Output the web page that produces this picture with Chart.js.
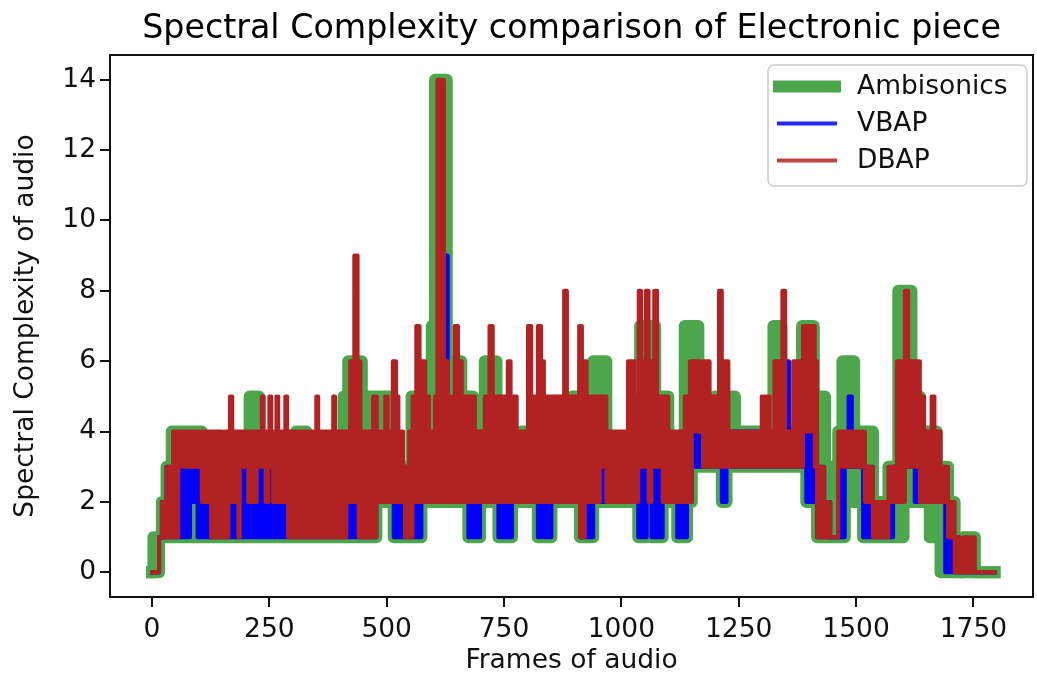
<!DOCTYPE html>
<html>
<head>
<meta charset="utf-8">
<script src="https://cdn.jsdelivr.net/npm/chart.js@4.4.1/dist/chart.umd.min.js"></script>
<style>
  html, body { margin: 0; padding: 0; background: #fff; }
  #wrap { width: 1037px; height: 675px; }
</style>
</head>
<body>
<div id="wrap"><canvas id="spectralChart" width="1037" height="675"></canvas></div>
<script>
const seriesNames = ['Ambisonics', 'VBAP', 'DBAP'];
const xTicks = [0, 250, 500, 750, 1000, 1250, 1500, 1750];
const yTicks = [0, 2, 4, 6, 8, 10, 12, 14];
const lastFrame = 1795;

// each step: [frame where it starts, lowest value, highest value]
const ambisonicsSteps = [
  [0,0,0],[3,0,1],[15,1,1],[21,1,2],[31,1,3],[42,1,4],[106,1,3],[208,1,5],[228,1,3],[307,1,4],
  [329,1,3],[408,1,5],[418,1,6],[447,1,3],[460,1,5],[478,2,5],[488,2,3],[492,2,5],[510,2,3],[515,1,3],
  [553,1,5],[567,1,3],[574,2,3],[596,2,7],[603,2,14],[628,2,6],[659,2,5],[674,1,5],[684,1,3],[699,2,3],
  [709,2,6],[734,2,3],[738,1,3],[767,2,3],[787,2,4],[801,2,3],[822,1,3],[851,2,3],[895,2,5],[909,2,3],
  [912,1,3],[922,1,5],[929,1,3],[940,2,6],[968,2,3],[1036,1,3],[1040,1,7],[1054,2,7],[1064,1,7],[1072,1,3],
  [1078,1,5],[1088,2,5],[1100,2,3],[1119,1,3],[1135,1,7],[1140,2,7],[1150,3,7],[1164,3,4],[1199,3,5],[1214,2,4],
  [1224,3,4],[1228,3,5],[1242,3,4],[1324,3,7],[1341,3,4],[1385,3,7],[1394,2,7],[1410,2,4],[1417,1,3],[1423,1,5],
  [1434,1,3],[1462,1,4],[1471,1,6],[1476,2,6],[1496,2,4],[1515,1,4],[1536,1,2],[1569,1,3],[1590,1,8],[1601,2,8],
  [1618,2,5],[1636,2,4],[1657,1,4],[1672,1,3],[1680,0,3],[1696,0,2],[1710,0,1],[1720,0,0],[1728,0,1],[1753,0,0]
];
const vbapSteps = [
  [0,0,0],[15,1,1],[21,1,2],[31,1,3],[81,2,3],[97,1,3],[106,1,2],[126,1,3],[163,1,2],[184,1,3],
  [205,1,2],[223,1,3],[242,1,2],[251,1,3],[258,1,2],[290,1,3],[414,1,2],[425,1,3],[478,2,3],[515,1,3],
  [574,2,3],[624,2,9],[630,2,3],[674,1,3],[699,2,3],[738,1,3],[767,2,3],[822,1,3],[851,2,3],[912,1,3],
  [940,2,3],[1036,1,3],[1054,2,3],[1064,1,3],[1088,2,3],[1119,1,2],[1140,2,3],[1150,3,4],[1214,2,4],[1224,3,4],
  [1352,3,6],[1357,3,4],[1394,2,4],[1417,1,3],[1432,1,2],[1445,1,1],[1466,1,3],[1476,3,3],[1484,3,5],[1491,3,3],
  [1515,1,3],[1536,1,2],[1579,2,3],[1601,3,4],[1625,2,4],[1639,2,3],[1690,0,2],[1697,0,1],[1720,0,0]
];
const dbapSteps = [
  [0,0,0],[15,1,1],[21,1,2],[31,1,3],[45,1,4],[56,3,4],[106,2,4],[126,1,4],[150,1,3],[155,1,4],
  [163,2,4],[166,2,5],[171,2,4],[184,1,4],[187,3,4],[205,2,4],[223,3,4],[234,3,5],[238,3,4],[242,2,4],
  [248,3,4],[250,3,5],[254,3,4],[258,2,4],[265,2,5],[269,2,4],[284,2,5],[288,2,4],[290,1,4],[350,1,5],
  [354,1,4],[386,1,5],[390,1,4],[414,2,4],[422,2,6],[431,2,9],[438,2,6],[440,1,6],[444,1,4],[471,1,5],
  [478,2,5],[479,2,4],[497,2,5],[502,2,4],[513,2,6],[520,2,5],[525,2,4],[535,2,3],[539,1,3],[548,1,4],
  [555,2,5],[563,2,7],[570,2,5],[575,2,6],[582,2,5],[590,2,4],[603,2,5],[608,2,14],[622,2,6],[630,2,5],
  [645,2,7],[652,2,6],[660,2,5],[688,2,4],[709,2,5],[719,2,7],[726,2,5],[758,2,6],[764,2,5],[777,2,4],
  [801,2,7],[808,2,5],[822,2,7],[829,2,6],[835,2,5],[878,2,8],[884,2,5],[910,2,7],[912,1,7],[916,1,5],
  [922,2,6],[926,2,5],[954,3,5],[968,2,4],[1014,2,6],[1028,2,5],[1036,3,5],[1037,3,8],[1042,3,6],[1052,3,8],
  [1058,2,6],[1064,3,6],[1070,3,8],[1076,3,5],[1088,2,5],[1100,2,4],[1135,2,5],[1146,2,6],[1150,4,6],[1167,4,5],
  [1174,3,6],[1188,3,5],[1208,3,8],[1214,3,6],[1228,3,4],[1299,3,5],[1316,3,4],[1326,3,6],[1343,3,8],[1349,3,4],
  [1366,3,6],[1387,4,7],[1412,3,6],[1417,1,3],[1432,1,2],[1445,1,1],[1462,3,4],[1519,2,3],[1536,1,2],[1569,2,3],
  [1587,2,6],[1604,3,8],[1611,3,6],[1636,2,5],[1645,2,4],[1661,2,5],[1667,2,4],[1680,2,3],[1696,1,2],[1710,0,1],
  [1720,0,0],[1728,0,1],[1753,0,0]
];

const colors = ['#4ca64c', '#0000ff', '#b22222'];
const widths = [12, 4, 4];
const allSteps = [ambisonicsSteps, vbapSteps, dbapSteps];
const FONT = '"DejaVu Sans", sans-serif';

function edge(steps, k) {
  const pts = steps.map(s => ({ x: s[0], y: s[k] }));
  const last = steps[steps.length - 1];
  pts.push({ x: lastFrame, y: last[k] });
  return pts;
}

// two stepped lines per series (upper and lower edge), area between them filled
const datasets = [];
allSteps.forEach((steps, i) => {
  const hiIndex = datasets.length;
  const common = {
    borderColor: colors[i],
    backgroundColor: colors[i],
    borderWidth: widths[i],
    stepped: true,
    pointRadius: 0,
    borderJoinStyle: 'round',
    borderCapStyle: 'square',
    order: 3 - i
  };
  datasets.push(Object.assign({ label: seriesNames[i], data: edge(steps, 2), fill: hiIndex + 1 }, common));
  datasets.push(Object.assign({ label: seriesNames[i] + ' low', data: edge(steps, 1), fill: false }, common));
});

const framePlugin = {
  id: 'frame',
  afterDraw(chart) {
    const { ctx, chartArea: a } = chart;
    ctx.save();
    // title
    ctx.fillStyle = '#000';
    ctx.font = '33.3px ' + FONT;
    ctx.textAlign = 'center';
    ctx.textBaseline = 'alphabetic';
    ctx.fillText('Spectral Complexity comparison of Electronic piece', (a.left + a.right) / 2, 38);
    // spines
    ctx.strokeStyle = '#111';
    ctx.lineWidth = 2;
    ctx.strokeRect(a.left, a.top, a.right - a.left, a.bottom - a.top);
    // legend
    const bx = 768, by = 65, bw = 259, bh = 121, r = 6;
    ctx.beginPath();
    ctx.roundRect(bx, by, bw, bh, r);
    ctx.fillStyle = 'rgba(255,255,255,0.8)';
    ctx.fill();
    ctx.strokeStyle = '#cccccc';
    ctx.lineWidth = 1.5;
    ctx.stroke();
    ctx.font = '26.5px ' + FONT;
    ctx.textAlign = 'left';
    ctx.textBaseline = 'middle';
    seriesNames.forEach((name, i) => {
      const y = 86.5 + i * 37;
      ctx.beginPath();
      ctx.moveTo(779, y);
      ctx.lineTo(835, y);
      ctx.lineCap = 'square';
      ctx.lineWidth = widths[i];
      ctx.strokeStyle = colors[i];
      ctx.globalAlpha = i === 0 ? 1 : 0.85;
      ctx.stroke();
      ctx.globalAlpha = 1;
      ctx.fillStyle = '#111';
      ctx.fillText(name, 857, y + 1);
    });
    ctx.restore();
  }
};

new Chart(document.getElementById('spectralChart'), {
  type: 'line',
  data: { datasets: datasets },
  options: {
    responsive: false,
    animation: false,
    parsing: false,
    normalized: true,
    layout: { padding: { top: 55, right: 4, left: 0, bottom: 0 } },
    plugins: {
      legend: { display: false },
      tooltip: { enabled: false },
      filler: { propagate: false }
    },
    scales: {
      x: {
        type: 'linear',
        min: -89.5,
        max: 1877,
        afterBuildTicks: s => { s.ticks = xTicks.map(v => ({ value: v })); },
        afterFit: s => { s.height = 78; },
        border: { display: false },
        grid: { drawOnChartArea: false, drawTicks: true, tickLength: 10, color: '#111', lineWidth: 2 },
        ticks: { color: '#111', font: { family: FONT, size: 26.5 }, padding: 7, maxRotation: 0, autoSkip: false, callback: v => String(v) },
        title: { display: true, text: 'Frames of audio', color: '#111', font: { family: FONT, size: 26.5, lineHeight: 1 }, padding: { top: 0, bottom: 1 } }
      },
      y: {
        type: 'linear',
        min: -0.7,
        max: 14.7,
        afterBuildTicks: s => { s.ticks = yTicks.map(v => ({ value: v })); },
        afterFit: s => { s.width = 110; },
        border: { display: false },
        grid: { drawOnChartArea: false, drawTicks: true, tickLength: 10, color: '#111', lineWidth: 2 },
        ticks: { color: '#111', font: { family: FONT, size: 26.5 }, padding: 4, autoSkip: false, callback: v => String(v) },
        title: { display: true, text: 'Spectral Complexity of audio', color: '#111', font: { family: FONT, size: 26.5 }, padding: { top: 10, bottom: 0 } }
      }
    }
  },
  plugins: [framePlugin]
});
</script>
</body>
</html>
